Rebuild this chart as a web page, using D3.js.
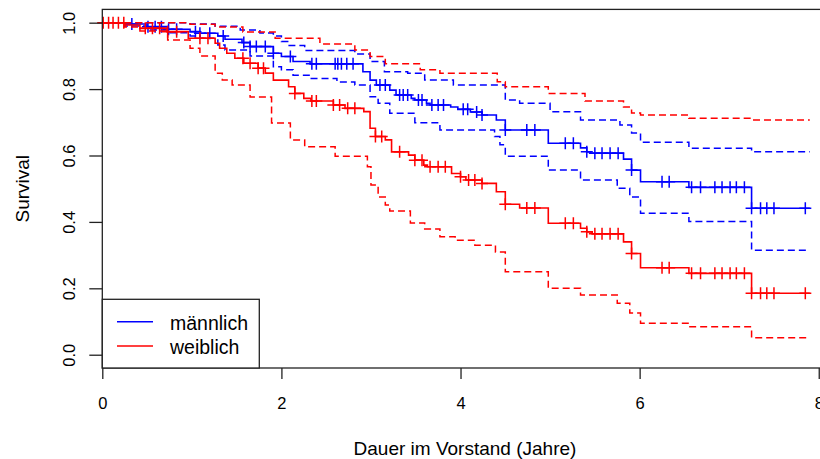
<!DOCTYPE html>
<html>
<head>
<meta charset="utf-8">
<script src="https://cdn.jsdelivr.net/npm/d3@7"></script>
<style>
  body { margin: 0; background: #fff; }
  svg { display: block; }
  text { font-family: Arial, "Liberation Sans", sans-serif; fill: #000; }
</style>
</head>
<body>
<svg></svg>
<script>
// Kaplan-Meier estimates: [time in years, survival]
var maleKM = [[0,1],[0.25,0.996],[0.50,0.988],[0.73,0.980],[0.98,0.973],[1.09,0.968],[1.29,0.960],[1.37,0.950],[1.56,0.940],[1.65,0.928],[1.91,0.908],[2.00,0.898],[2.13,0.883],[2.32,0.876],[2.91,0.852],[2.99,0.827],[3.06,0.812],[3.21,0.797],[3.28,0.782],[3.45,0.772],[3.49,0.767],[3.62,0.757],[3.66,0.752],[3.89,0.746],[3.97,0.739],[4.11,0.731],[4.24,0.722],[4.40,0.707],[4.50,0.677],[4.98,0.637],[5.34,0.623],[5.41,0.611],[5.45,0.607],[5.82,0.589],[5.91,0.556],[6.01,0.521],[6.55,0.504],[7.25,0.441]];
var maleUpper = [[0,1],[0.98,0.996],[1.26,0.989],[1.54,0.978],[1.76,0.969],[1.91,0.960],[2.00,0.943],[2.07,0.931],[2.26,0.916],[2.82,0.906],[2.99,0.883],[3.15,0.852],[3.41,0.848],[3.60,0.827],[3.92,0.812],[4.50,0.767],[4.66,0.757],[5.00,0.732],[5.34,0.707],[5.78,0.692],[5.91,0.668],[6.01,0.640],[6.55,0.622],[7.25,0.611]];
var maleLower = [[0,1],[0.25,0.990],[0.50,0.978],[0.73,0.970],[0.98,0.960],[1.09,0.953],[1.29,0.933],[1.37,0.918],[1.65,0.900],[1.91,0.867],[2.00,0.858],[2.13,0.842],[2.32,0.832],[2.62,0.821],[2.82,0.812],[2.99,0.777],[3.08,0.757],[3.21,0.727],[3.49,0.699],[3.77,0.677],[4.38,0.657],[4.44,0.632],[4.50,0.598],[4.98,0.556],[5.34,0.526],[5.75,0.501],[5.89,0.475],[6.01,0.426],[6.55,0.401],[7.25,0.315]];
var maleCensor = [0.33,0.51,0.59,0.66,0.74,0.83,1.04,1.09,1.20,1.35,1.58,1.65,1.72,1.82,1.91,2.10,2.34,2.39,2.60,2.63,2.67,2.73,2.80,3.10,3.16,3.32,3.36,3.41,3.53,3.57,3.68,3.75,3.81,4.03,4.08,4.18,4.24,4.50,4.74,4.83,5.17,5.26,5.41,5.50,5.58,5.67,5.76,5.91,6.25,6.33,6.58,6.68,6.84,6.92,7.01,7.08,7.17,7.25,7.35,7.42,7.50,7.85];

var femaleKM = [[0,1],[0.25,0.993],[0.42,0.983],[0.72,0.973],[0.96,0.953],[1.26,0.938],[1.31,0.923],[1.39,0.908],[1.48,0.893],[1.58,0.878],[1.74,0.863],[1.82,0.848],[1.91,0.827],[2.08,0.807],[2.15,0.787],[2.25,0.772],[2.33,0.764],[2.58,0.752],[2.71,0.742],[2.92,0.732],[2.99,0.682],[3.05,0.657],[3.16,0.647],[3.23,0.611],[3.42,0.601],[3.49,0.586],[3.59,0.571],[3.63,0.566],[3.90,0.546],[4.00,0.536],[4.06,0.526],[4.24,0.516],[4.40,0.491],[4.50,0.453],[4.66,0.442],[4.98,0.396],[5.34,0.381],[5.41,0.370],[5.47,0.364],[5.82,0.340],[5.91,0.305],[6.01,0.262],[6.55,0.245],[7.25,0.185]];
var femaleUpper = [[0,1],[0.98,0.995],[1.26,0.987],[1.57,0.972],[1.93,0.953],[2.43,0.936],[2.82,0.918],[2.99,0.898],[3.16,0.876],[3.55,0.858],[3.77,0.848],[4.41,0.822],[4.50,0.807],[4.98,0.787],[5.39,0.764],[5.82,0.746],[5.91,0.728],[6.01,0.722],[6.55,0.712],[7.25,0.707]];
var femaleLower = [[0,1],[0.25,0.987],[0.42,0.975],[0.73,0.948],[0.98,0.923],[1.09,0.900],[1.26,0.848],[1.34,0.827],[1.45,0.812],[1.65,0.776],[1.89,0.698],[2.10,0.647],[2.26,0.626],[2.60,0.598],[2.96,0.566],[3.00,0.511],[3.08,0.475],[3.16,0.451],[3.21,0.433],[3.44,0.397],[3.60,0.379],[3.77,0.355],[3.94,0.345],[4.16,0.330],[4.39,0.309],[4.50,0.250],[4.98,0.200],[5.34,0.180],[5.75,0.155],[5.89,0.126],[6.01,0.095],[6.55,0.084],[7.25,0.051]];
var femaleCensor = [0.01,0.07,0.12,0.18,0.24,0.48,0.56,0.64,0.73,0.83,1.09,1.18,1.57,1.65,1.74,1.80,2.15,2.34,2.39,2.58,2.65,2.74,2.82,3.05,3.12,3.32,3.49,3.57,3.66,3.75,3.83,4.00,4.09,4.16,4.24,4.50,4.74,4.83,5.17,5.26,5.41,5.50,5.58,5.67,5.76,5.91,6.25,6.33,6.58,6.68,6.84,6.92,7.01,7.08,7.17,7.25,7.35,7.42,7.50,7.85];

var lastTime = 7.9;
var groupNames = ['männlich', 'weiblich'];
var groupColors = ['#0000ff', '#ff0000'];
var xTicks = [0, 2, 4, 6, 8];
var yTicks = [0, 0.2, 0.4, 0.6, 0.8, 1.0];

var width = 820, height = 459;
var plotLeft = 102.3, plotRight = 827.7, plotTop = 9.4, plotBottom = 368;

var svg = d3.select('svg')
  .attr('width', width)
  .attr('height', height);

var x = d3.scaleLinear().domain([0, 8.1]).range([plotLeft, plotRight]);
var y = d3.scaleLinear().domain([-0.04, 1.04]).range([plotBottom, plotTop]);

var series = [
  {name: groupNames[0], color: groupColors[0], km: maleKM, lower: maleLower, upper: maleUpper, censor: maleCensor},
  {name: groupNames[1], color: groupColors[1], km: femaleKM, lower: femaleLower, upper: femaleUpper, censor: femaleCensor}
];

var stepLine = d3.line()
  .x(d => x(d[0]))
  .y(d => y(d[1]))
  .curve(d3.curveStepAfter);

function withEnd(steps) {
  return steps.concat([[lastTime, steps[steps.length - 1][1]]]);
}

function survAt(steps, t) {
  var i = d3.bisector(d => d[0]).right(steps, t) - 1;
  return steps[Math.max(i, 0)][1];
}

var plot = svg.append('g');

series.forEach(s => {
  [s.upper, s.lower].forEach(ci => {
    plot.append('path')
      .attr('d', stepLine(withEnd(ci)))
      .attr('fill', 'none')
      .attr('stroke', s.color)
      .attr('stroke-width', 1.5)
      .attr('stroke-dasharray', '7,4');
  });

  plot.append('path')
    .attr('d', stepLine(withEnd(s.km)))
    .attr('fill', 'none')
    .attr('stroke', s.color)
    .attr('stroke-width', 1.6);

  plot.selectAll(null)
    .data(s.censor)
    .enter()
    .append('path')
    .attr('d', t => {
      var cx = x(t), cy = y(survAt(s.km, t));
      return 'M' + (cx - 6) + ',' + cy + 'h12M' + cx + ',' + (cy - 6) + 'v12';
    })
    .attr('stroke', s.color)
    .attr('stroke-width', 1.5)
    .attr('fill', 'none');
});

// frame
svg.append('rect')
  .attr('x', plotLeft)
  .attr('y', plotTop)
  .attr('width', plotRight - plotLeft)
  .attr('height', plotBottom - plotTop)
  .attr('fill', 'none')
  .attr('stroke', '#222')
  .attr('stroke-width', 1.3);

// x axis
var xAxis = svg.append('g')
  .attr('transform', 'translate(0,' + plotBottom + ')')
  .call(d3.axisBottom(x).tickValues(xTicks).tickSize(11).tickFormat(d3.format('d')));
xAxis.select('.domain').remove();
xAxis.selectAll('line').attr('stroke', '#222').attr('stroke-width', 1.3);
xAxis.selectAll('text')
  .attr('y', 40.5)
  .attr('dy', 0)
  .style('font-size', '16.5px')
  .style('font-family', 'Arial, "Liberation Sans", sans-serif')
  .attr('fill', '#000');

// y axis, labels turned vertical as in R
var yAxis = svg.append('g')
  .attr('transform', 'translate(' + plotLeft + ',0)')
  .call(d3.axisLeft(y).tickValues(yTicks).tickSize(13).tickFormat(d3.format('.1f')));
yAxis.select('.domain').remove();
yAxis.selectAll('line').attr('stroke', '#222').attr('stroke-width', 1.3);
yAxis.selectAll('text')
  .attr('transform', 'rotate(-90)')
  .attr('x', 0)
  .attr('y', 75 - plotLeft)
  .attr('dy', 0)
  .attr('text-anchor', 'middle')
  .style('font-size', '16.5px')
  .style('font-family', 'Arial, "Liberation Sans", sans-serif')
  .attr('fill', '#000');

// axis titles
svg.append('text')
  .attr('x', 465)
  .attr('y', 455)
  .attr('text-anchor', 'middle')
  .style('font-size', '19px')
  .text('Dauer im Vorstand (Jahre)');

svg.append('text')
  .attr('transform', 'translate(29,' + ((plotTop + plotBottom) / 2) + ') rotate(-90)')
  .attr('text-anchor', 'middle')
  .style('font-size', '19px')
  .text('Survival');

// legend
var legend = svg.append('g');
legend.append('rect')
  .attr('x', plotLeft)
  .attr('y', 299.3)
  .attr('width', 259.3 - plotLeft)
  .attr('height', plotBottom - 299.3)
  .attr('fill', '#fff')
  .attr('stroke', '#222')
  .attr('stroke-width', 1.3);

var rows = legend.selectAll('g.row')
  .data(series)
  .enter()
  .append('g')
  .attr('class', 'row')
  .attr('transform', (d, i) => 'translate(0,' + (321.7 + i * 24.3) + ')');

rows.append('line')
  .attr('x1', 117)
  .attr('x2', 153)
  .attr('stroke', d => d.color)
  .attr('stroke-width', 1.4);

rows.append('text')
  .attr('x', 170)
  .attr('y', 8)
  .style('font-size', '19.5px')
  .text(d => d.name);
</script>
</body>
</html>
